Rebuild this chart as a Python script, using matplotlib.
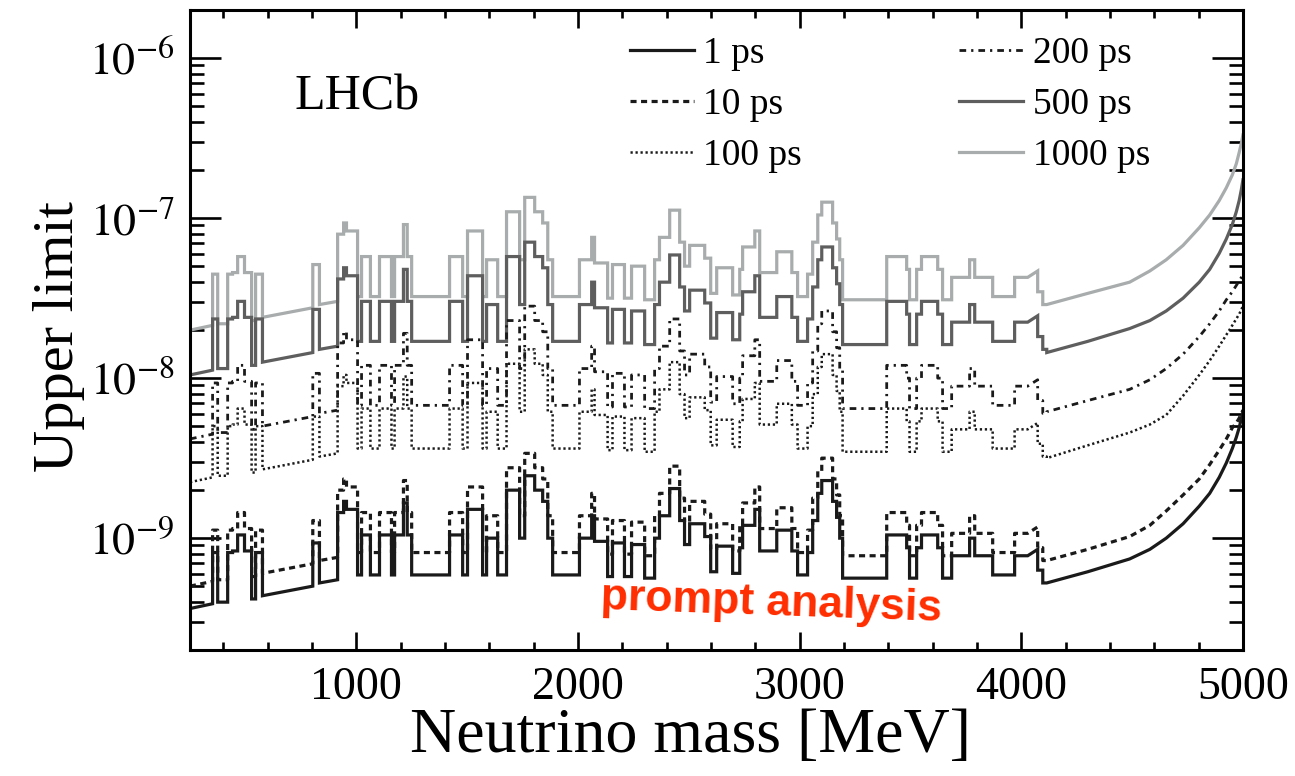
import numpy as np
import matplotlib
matplotlib.use("Agg")
import matplotlib.pyplot as plt
from matplotlib.ticker import FixedLocator, FuncFormatter, NullFormatter, LogLocator

plt.rcParams['font.family'] = ['Liberation Serif', 'DejaVu Serif']
plt.rcParams['mathtext.fontset'] = 'stix'

# ---- data (neutrino mass bins in MeV, log10 of upper limit) ----
edges = [250, 352, 375, 420, 442, 465, 496, 528, 546, 577, 804, 834, 916, 943, 956,
         1006, 1024, 1064, 1105, 1159, 1173, 1213, 1230, 1250, 1421, 1480, 1502, 1570,
         1588, 1638, 1678, 1737, 1760, 1805, 1841, 1864, 1886, 2007, 2062, 2075, 2134,
         2156, 2210, 2242, 2301, 2346, 2368, 2414, 2459, 2481, 2504, 2572, 2599, 2626,
         2698, 2730, 2743, 2798, 2820, 2897, 2965, 2991, 3036, 3059, 3082, 3100, 3149,
         3167, 3181, 3194, 3393, 3483, 3496, 3528, 3550, 3623, 3645, 3686, 3767, 3790,
         3871, 3970, 4029, 4074, 4097, 4115]

# rise (in decades) across each bin, for the slightly sloped bins
rise = [0.03, 0, 0, 0, 0, 0, 0, 0, 0, 0.06,
        0, 0.02, 0, 0, 0, 0, 0, 0, 0, 0,
        0, 0, 0, 0, 0, 0, 0, 0, 0, 0,
        0, 0, 0, 0, 0, 0, 0, 0, 0, 0,
        0, 0, 0, 0, 0, 0, 0, 0, 0, 0,
        0, 0, 0, 0, 0, 0, 0, 0, 0, 0,
        0, 0, 0, 0, 0, 0, 0, 0, 0, 0,
        0, 0, 0, 0, 0, 0, 0, 0, 0, 0,
        0, 0, 0.04, 0, 0]

tail_mass = [4115, 4300, 4489, 4580, 4654, 4730, 4803, 4850, 4893, 4925, 4952,
             4970, 4983, 4993, 5000]

lim_1ps = [-9.44, -9.09, -9.40, -9.09, -9.08, -8.98, -9.08, -9.38, -9.09, -9.36,
           -9.03, -9.28, -8.84, -8.77, -8.82, -9.23, -8.98, -9.23, -8.98, -9.23,
           -8.98, -8.78, -8.98, -9.23, -8.98, -9.23, -8.82, -9.23, -9.00, -9.23,
           -8.70, -9.00, -8.61, -8.70, -8.77, -9.00, -9.23, -9.00, -8.86, -9.02,
           -9.24, -9.03, -9.24, -9.04, -9.25, -9.00, -8.86, -8.69, -8.89, -9.04,
           -8.91, -8.99, -9.21, -9.05, -9.22, -9.06, -8.92, -8.82, -9.08, -8.95,
           -9.08, -9.23, -9.09, -8.89, -8.72, -8.64, -8.77, -8.87, -9.00, -9.25,
           -8.98, -9.06, -9.25, -9.06, -8.98, -9.06, -9.25, -9.11, -9.00, -9.11,
           -9.23, -9.11, -9.11, -9.20, -9.28]
tail_1ps = [-9.28, -9.21, -9.13, -9.07, -9.00, -8.91, -8.80, -8.72, -8.62, -8.53,
            -8.44, -8.37, -8.31, -8.25, -8.21]

lim_10ps = [-9.30, -8.95, -9.26, -8.95, -8.94, -8.84, -8.94, -9.24, -8.95, -9.22,
            -8.89, -9.14, -8.70, -8.63, -8.68, -9.09, -8.84, -9.09, -8.84, -9.09,
            -8.84, -8.64, -8.84, -9.09, -8.84, -9.09, -8.68, -9.09, -8.86, -9.09,
            -8.56, -8.86, -8.47, -8.56, -8.63, -8.86, -9.09, -8.86, -8.72, -8.88,
            -9.10, -8.89, -9.10, -8.90, -9.11, -8.86, -8.72, -8.55, -8.75, -8.90,
            -8.77, -8.85, -9.07, -8.91, -9.08, -8.92, -8.78, -8.68, -8.94, -8.81,
            -8.94, -9.09, -8.95, -8.75, -8.58, -8.50, -8.63, -8.73, -8.86, -9.11,
            -8.84, -8.92, -9.11, -8.92, -8.84, -8.92, -9.11, -8.97, -8.86, -8.97,
            -9.09, -8.97, -8.97, -9.06, -9.14]
tail_10ps = [-9.14, -9.07, -8.99, -8.92, -8.83, -8.73, -8.63, -8.54, -8.45, -8.38,
             -8.31, -8.28, -8.25, -8.22, -8.20]

lim_100ps = [-8.65, -8.30, -8.61, -8.30, -8.29, -8.19, -8.29, -8.59, -8.30, -8.57,
             -8.24, -8.49, -8.05, -7.98, -8.03, -8.44, -8.19, -8.44, -8.19, -8.44,
             -8.19, -7.99, -8.19, -8.44, -8.19, -8.44, -8.03, -8.44, -8.21, -8.44,
             -7.91, -8.21, -7.82, -7.91, -7.98, -8.21, -8.44, -8.21, -8.07, -8.23,
             -8.45, -8.24, -8.45, -8.25, -8.46, -8.21, -8.07, -7.90, -8.10, -8.25,
             -8.12, -8.20, -8.42, -8.26, -8.43, -8.27, -8.13, -8.03, -8.29, -8.16,
             -8.29, -8.44, -8.30, -8.10, -7.93, -7.85, -7.98, -8.08, -8.21, -8.46,
             -8.19, -8.27, -8.46, -8.27, -8.19, -8.27, -8.46, -8.32, -8.21, -8.32,
             -8.44, -8.32, -8.32, -8.41, -8.49]
tail_100ps = [-8.50, -8.42, -8.34, -8.29, -8.23, -8.11, -7.98, -7.89, -7.80, -7.73,
              -7.67, -7.63, -7.60, -7.57, -7.55]

lim_200ps = [-8.38, -8.03, -8.34, -8.03, -8.02, -7.92, -8.02, -8.32, -8.03, -8.30,
             -7.97, -8.22, -7.78, -7.71, -7.76, -8.17, -7.92, -8.17, -7.92, -8.17,
             -7.92, -7.72, -7.92, -8.17, -7.92, -8.17, -7.76, -8.17, -7.94, -8.17,
             -7.64, -7.94, -7.55, -7.64, -7.71, -7.94, -8.17, -7.94, -7.80, -7.96,
             -8.18, -7.97, -8.18, -7.98, -8.19, -7.94, -7.80, -7.63, -7.83, -7.98,
             -7.85, -7.93, -8.15, -7.99, -8.16, -8.00, -7.86, -7.76, -8.02, -7.89,
             -8.02, -8.17, -8.03, -7.83, -7.66, -7.58, -7.71, -7.81, -7.94, -8.19,
             -7.92, -8.00, -8.19, -8.00, -7.92, -8.00, -8.19, -8.05, -7.94, -8.05,
             -8.17, -8.05, -8.05, -8.14, -8.22]
tail_200ps = [-8.21, -8.14, -8.07, -8.01, -7.94, -7.85, -7.74, -7.66, -7.58, -7.51,
              -7.46, -7.42, -7.39, -7.37, -7.35]

lim_500ps = [-7.98, -7.63, -7.94, -7.63, -7.62, -7.52, -7.62, -7.92, -7.63, -7.90,
             -7.57, -7.82, -7.38, -7.31, -7.36, -7.77, -7.52, -7.77, -7.52, -7.77,
             -7.52, -7.32, -7.52, -7.77, -7.52, -7.77, -7.36, -7.77, -7.54, -7.77,
             -7.24, -7.54, -7.15, -7.24, -7.31, -7.54, -7.77, -7.54, -7.40, -7.56,
             -7.78, -7.57, -7.78, -7.58, -7.79, -7.54, -7.40, -7.23, -7.43, -7.58,
             -7.45, -7.53, -7.75, -7.59, -7.76, -7.60, -7.46, -7.36, -7.62, -7.49,
             -7.62, -7.77, -7.63, -7.43, -7.26, -7.18, -7.31, -7.41, -7.54, -7.79,
             -7.52, -7.60, -7.79, -7.60, -7.52, -7.60, -7.79, -7.65, -7.54, -7.65,
             -7.77, -7.65, -7.65, -7.74, -7.82]
tail_500ps = [-7.84, -7.77, -7.69, -7.64, -7.58, -7.50, -7.40, -7.32, -7.22, -7.13,
              -7.04, -6.96, -6.89, -6.82, -6.76]

lim_1000ps = [-7.70, -7.35, -7.66, -7.35, -7.34, -7.24, -7.34, -7.64, -7.35, -7.62,
              -7.29, -7.54, -7.10, -7.03, -7.08, -7.49, -7.24, -7.49, -7.24, -7.49,
              -7.24, -7.04, -7.24, -7.49, -7.24, -7.49, -7.08, -7.49, -7.26, -7.49,
              -6.96, -7.26, -6.87, -6.96, -7.03, -7.26, -7.49, -7.26, -7.12, -7.28,
              -7.50, -7.29, -7.50, -7.30, -7.51, -7.26, -7.12, -6.95, -7.15, -7.30,
              -7.17, -7.25, -7.47, -7.31, -7.48, -7.32, -7.18, -7.08, -7.34, -7.21,
              -7.34, -7.49, -7.35, -7.15, -6.98, -6.90, -7.03, -7.13, -7.26, -7.51,
              -7.24, -7.32, -7.51, -7.32, -7.24, -7.32, -7.51, -7.37, -7.26, -7.37,
              -7.49, -7.37, -7.37, -7.46, -7.54]
tail_1000ps = [-7.54, -7.47, -7.40, -7.33, -7.26, -7.17, -7.06, -6.98, -6.89, -6.81,
               -6.73, -6.66, -6.59, -6.53, -6.48]

labels = ['1 ps', '10 ps', '100 ps', '200 ps', '500 ps', '1000 ps']


def curve(levels, tail):
    xs, ys = [], []
    for i, lv in enumerate(levels):
        xs += [edges[i], edges[i + 1]]
        ys += [lv, lv + rise[i]]
    xs += tail_mass
    ys += tail
    return np.array(xs, float), 10.0 ** np.array(ys)


fig = plt.figure(figsize=(12.95, 7.76), dpi=100)
ax = fig.add_axes([0.1467, 0.1624, 0.8131, 0.8247])

styles = {
    '1 ps': dict(color='#1a1a1a', lw=2.3, ls='-'),
    '10 ps': dict(color='#1a1a1a', lw=2.3, ls=(0, (1.9, 1.4))),
    '100 ps': dict(color='#1a1a1a', lw=1.8, ls=(0, (0.9, 1.1))),
    '200 ps': dict(color='#1a1a1a', lw=2.0, ls=(0, (2.4, 1.8, 0.8, 1.8))),
    '500 ps': dict(color='#5e5e5e', lw=2.3, ls='-'),
    '1000 ps': dict(color='#a8acac', lw=2.3, ls='-'),
}
series = {
    '1 ps': (lim_1ps, tail_1ps),
    '10 ps': (lim_10ps, tail_10ps),
    '100 ps': (lim_100ps, tail_100ps),
    '200 ps': (lim_200ps, tail_200ps),
    '500 ps': (lim_500ps, tail_500ps),
    '1000 ps': (lim_1000ps, tail_1000ps),
}
handles = {}
for lab in ['1000 ps', '500 ps', '200 ps', '100 ps', '10 ps', '1 ps']:
    x, y = curve(*series[lab])
    h, = ax.plot(x, y, solid_joinstyle='miter', label=lab, **styles[lab])
    handles[lab] = h

ax.set_yscale('log')
ax.set_xlim(250, 5000)
ax.set_ylim(2e-10, 2e-6)

ax.xaxis.set_major_locator(FixedLocator([1000, 2000, 3000, 4000, 5000]))
ax.xaxis.set_minor_locator(FixedLocator(list(range(400, 5000, 200))))
ax.yaxis.set_major_locator(FixedLocator([1e-9, 1e-8, 1e-7, 1e-6]))
ax.yaxis.set_minor_locator(LogLocator(base=10, subs=np.arange(2, 10)))
ax.yaxis.set_minor_formatter(NullFormatter())
ax.yaxis.set_major_formatter(FuncFormatter(lambda v, p: r'$10^{%d}$' % int(round(np.log10(v)))))

ax.tick_params(axis='both', which='both', direction='in', top=True, right=True, width=1.9)
ax.tick_params(axis='x', which='major', length=13, labelsize=33, pad=12)
ax.tick_params(axis='x', which='minor', length=6)
ax.tick_params(axis='y', which='major', length=22, labelsize=33, pad=11)
ax.tick_params(axis='y', which='minor', length=10)
for s in ax.spines.values():
    s.set_linewidth(2.2)

ax.set_xlabel('Neutrino mass [MeV]', fontsize=46)
ax.set_ylabel('Upper limit', fontsize=42)
ax.xaxis.set_label_coords(0.475, -0.090)
ax.yaxis.set_label_coords(-0.100, 0.49)
ax.xaxis.label.set_va('top')

ax.text(0.0997, 0.845, 'LHCb', transform=ax.transAxes, fontsize=36, va='baseline', ha='left')

ax.text(0.5515, 0.055, 'prompt analysis', transform=ax.transAxes, fontsize=32,
        fontweight='bold', family=['Liberation Sans', 'DejaVu Sans'], color='#ff2d00',
        rotation=-2, ha='center', va='baseline', rotation_mode='anchor')

leg = ax.legend([handles[l] for l in labels], labels, ncol=2, frameon=False,
                loc='upper left', bbox_to_anchor=(0.418, 0.958), fontsize=27,
                handlelength=1.7, handletextpad=0.25, columnspacing=4.2,
                labelspacing=0.43, borderpad=0, borderaxespad=0)

fig.savefig('out.png', dpi=100)
